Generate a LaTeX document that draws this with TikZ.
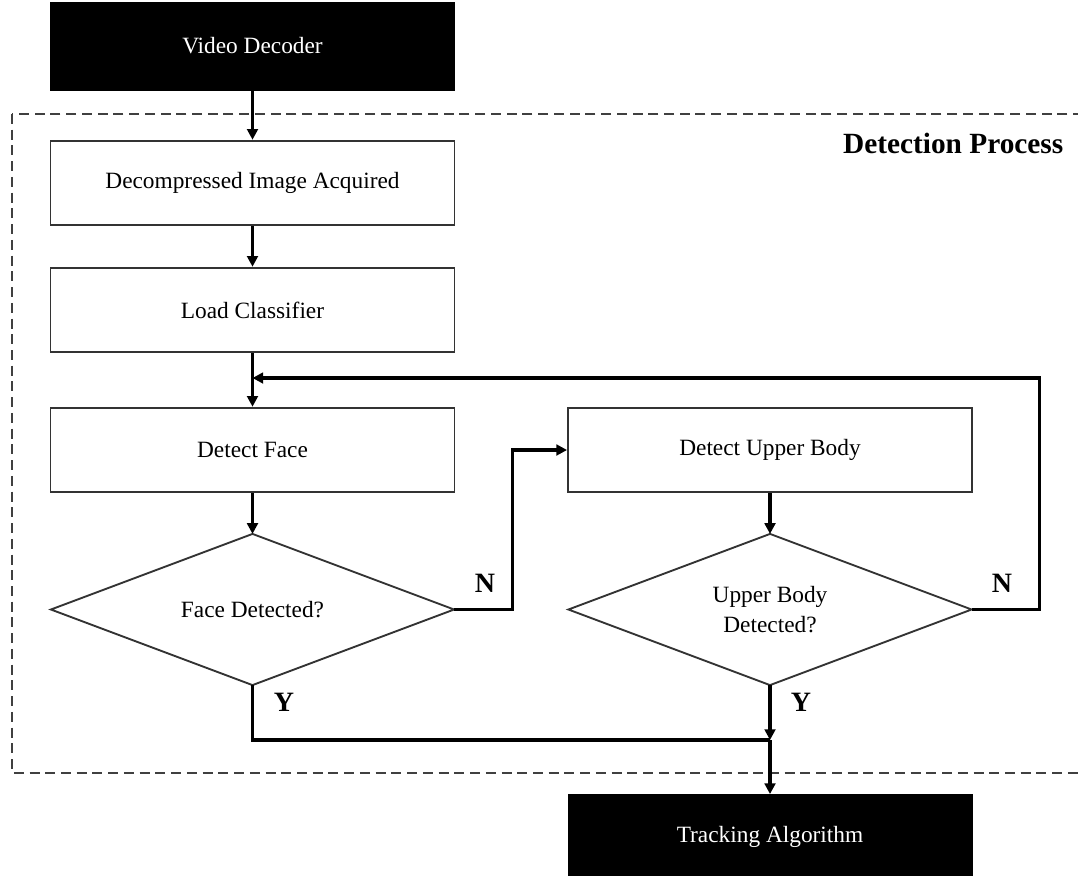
\documentclass[tikz,border=0pt]{standalone}
\usepackage{fontspec}
\setmainfont{Liberation Serif}
\usetikzlibrary{arrows.meta}
\begin{document}
\begin{tikzpicture}[x=0.75pt,y=-0.75pt,
  every node/.style={font=\fontsize{17.5}{21}\selectfont},
  procbox/.style={draw=black!80,line width=1.4pt,rectangle,minimum width=303pt,minimum height=63.5pt,inner sep=0pt},
  termbox/.style={fill=black,draw=black,rectangle,text=white,minimum width=303pt,minimum height=66pt,inner sep=0pt},
  decision/.style={rectangle,minimum width=302pt,minimum height=113pt,inner sep=0pt,align=center},
  rhombus/.style={draw=black!80,line width=1.4pt,line join=miter},
  flow/.style={line width=2.3pt,draw=black,-{Triangle[length=8pt,width=8pt]}},
  plain/.style={line width=2.3pt,draw=black},
  tag/.style={font=\fontsize{21}{24}\selectfont\bfseries},
  region/.style={draw=black!75,line width=1.3pt,dash pattern=on 7.5pt off 4.3pt}]
\useasboundingbox (0,0) rectangle (1078,875);

% dashed frame of the detection stage
\draw[region] (12,114) rectangle (1100,773);
\node[anchor=east,font=\fontsize{22}{26}\selectfont\bfseries] (title) at (1068,143) {Detection Process};

% process blocks
\node[termbox] (vd) at (252.5,46) {Video Decoder};
\node[procbox] (dia) at (252.5,183) {Decompressed Image Acquired};
\node[procbox] (lc) at (252.5,310) {Load Classifier};
\node[procbox] (df) at (252.5,450) {Detect Face};
\node[decision] (fd) at (252.5,609.5) {Face Detected?};
\node[procbox] (dub) at (770,450) {Detect Upper Body};
\node[decision] (ubd) at (770,609.5) {Upper Body\\[2pt]Detected?};
\node[termbox,minimum height=64pt] (ta) at (770,837) {Tracking Algorithm};

% decision outlines through the four side anchors
\draw[rhombus] (fd.north) -- (fd.east) -- (fd.south) -- (fd.west) -- cycle;
\draw[rhombus] (ubd.north) -- (ubd.east) -- (ubd.south) -- (ubd.west) -- cycle;

% junction points
\coordinate (join) at (252.5,378);
\coordinate (merge) at (770,740);

% connectors
\draw[flow] (vd.south) -- (dia.north);
\draw[flow] (dia.south) -- (lc.north);
\draw[flow] (lc.south) -- (df.north);
\draw[flow] (df.south) -- (fd.north);
\draw[flow] (fd.east) -- ++(58,0) |- (dub.west);
\draw[flow] (dub.south) -- (ubd.north);
\draw[flow] (ubd.east) -- ++(68,0) |- (join);
\draw[plain] (fd.south) |- (merge);
\draw[flow] (ubd.south) -- (merge);
\draw[flow] (merge) -- (ta.north);

% branch labels
\node[tag] (n1) at (485,583) {N};
\node[tag] (n2) at (1002,583) {N};
\node[tag] (y1) at (284,702) {Y};
\node[tag] (y2) at (801,702) {Y};
\end{tikzpicture}
\end{document}
